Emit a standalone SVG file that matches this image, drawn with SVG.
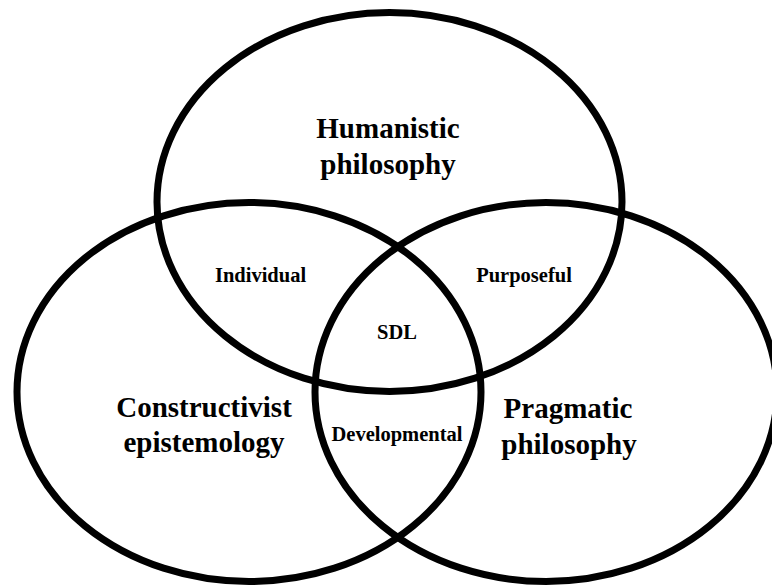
<svg xmlns="http://www.w3.org/2000/svg" width="772" height="586" viewBox="0 0 772 586">
  <style>
    .ring { fill: none; stroke: #000; stroke-width: 7; }
    .big { font-family: "Liberation Serif", "Times New Roman", serif; font-weight: bold; font-size: 29px; fill: #000; text-anchor: middle; }
    .small { font-family: "Liberation Serif", "Times New Roman", serif; font-weight: bold; font-size: 20.5px; fill: #000; text-anchor: middle; }
  </style>
  <rect width="772" height="586" fill="#fff"/>
  <g id="humanistic">
    <ellipse class="ring" cx="389.5" cy="202" rx="232.5" ry="189.5"/>
    <text class="big" x="388" y="138">Humanistic</text>
    <text class="big" x="388" y="174">philosophy</text>
  </g>
  <g id="constructivist">
    <ellipse class="ring" cx="249" cy="392" rx="232" ry="189.5"/>
    <text class="big" x="204" y="417">Constructivist</text>
    <text class="big" x="204" y="452">epistemology</text>
  </g>
  <g id="pragmatic">
    <ellipse class="ring" cx="546" cy="392" rx="231" ry="189.5"/>
    <text class="big" x="568" y="418">Pragmatic</text>
    <text class="big" x="569" y="454">philosophy</text>
  </g>
  <g id="individual">
    <text class="small" x="260.5" y="282">Individual</text>
  </g>
  <g id="purposeful">
    <text class="small" x="524" y="282">Purposeful</text>
  </g>
  <g id="sdl">
    <text class="small" x="397" y="339">SDL</text>
  </g>
  <g id="developmental">
    <text class="small" x="397" y="441">Developmental</text>
  </g>
  <g id="connectors"></g>
</svg>
